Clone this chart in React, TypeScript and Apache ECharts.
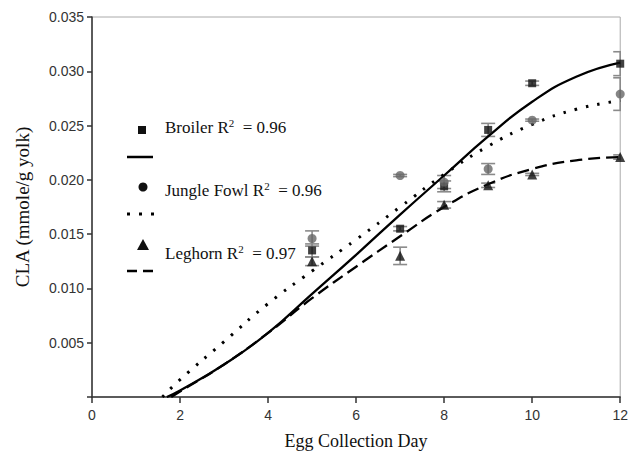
import React, { useEffect, useRef } from "react";
import * as echarts from "echarts";

const days = [5, 7, 8, 9, 10, 12];
const broiler = [0.0135, 0.0155, 0.0194, 0.0246, 0.0289, 0.0307];
const broilerErr = [0.0006, 0.0002, 0.0005, 0.0006, 0.0002, 0.0011];
const jungle = [0.0146, 0.0204, 0.0198, 0.021, 0.0255, 0.0279];
const jungleErr = [0.0007, 0.0001, 0.0006, 0.0005, 0.0001, 0.0015];
const leghorn = [0.0125, 0.013, 0.0177, 0.0195, 0.0205, 0.0221];
const leghornErr = [0.0004, 0.0008, 0.0003, 0.0002, 0.0001, 0.0002];

const broilerFit = [
  [1.7, 0], [2, 0.0006], [3, 0.003], [4, 0.0059], [5, 0.0095], [6, 0.0131],
  [7, 0.0168], [8, 0.0204], [9, 0.024], [10, 0.0272], [11, 0.0295], [12, 0.0308],
];
const jungleFit = [
  [1.6, 0], [2, 0.0016], [3, 0.0051], [4, 0.0086], [5, 0.0116], [6, 0.0145],
  [7, 0.0175], [8, 0.0205], [9, 0.0231], [10, 0.0251], [11, 0.0265], [12, 0.0273],
];
const leghornFit = [
  [1.8, 0], [2, 0.0005], [3, 0.003], [4, 0.0059], [5, 0.0091], [6, 0.012],
  [7, 0.0148], [8, 0.0175], [9, 0.0196], [10, 0.021], [11, 0.0218], [12, 0.0221],
];

const legendLabels = ["Broiler R", "Jungle Fowl R", "Leghorn R"];
const legendR2 = ["0.96", "0.96", "0.97"];

const SERIF = "'Liberation Serif', 'Times New Roman', serif";
const SANS = "'Liberation Sans', Arial, sans-serif";

function errorSeries(vals: number[], errs: number[]) {
  return {
    type: "custom",
    clip: true,
    z: 1,
    data: days.map((d, i) => [d, vals[i], errs[i]]),
    renderItem: (params: any, api: any) => {
      const x = api.value(0);
      const y = api.value(1);
      const e = api.value(2);
      const t = api.coord([x, y + e]);
      const b = api.coord([x, y - e]);
      const hw = 7;
      const st = { stroke: "#8a8a8a", lineWidth: 1.6 };
      return {
        type: "group",
        children: [
          { type: "line", shape: { x1: t[0], y1: t[1], x2: b[0], y2: b[1] }, style: st },
          { type: "line", shape: { x1: t[0] - hw, y1: t[1], x2: t[0] + hw, y2: t[1] }, style: st },
          { type: "line", shape: { x1: b[0] - hw, y1: b[1], x2: b[0] + hw, y2: b[1] }, style: st },
        ],
      };
    },
  };
}

function legendText(i: number, y: number) {
  return {
    type: "text",
    x: 165,
    y,
    style: {
      text: `{a|${legendLabels[i]}}{s|2}{a|  = ${legendR2[i]}}`,
      verticalAlign: "middle",
      rich: {
        a: { fontFamily: SERIF, fontSize: 17, fill: "#111", lineHeight: 19 },
        s: { fontFamily: SERIF, fontSize: 11, fill: "#111", verticalAlign: "top", lineHeight: 11 },
      },
    },
  };
}

export default function App() {
  const ref = useRef<HTMLDivElement>(null);
  useEffect(() => {
    if (!ref.current) return;
    document.body.style.margin = "0";
    const chart = echarts.init(ref.current, null, { renderer: "svg" });
    const axisLine = { lineStyle: { color: "#333", width: 1.5 } };
    const fitLine = (data: number[][], lineStyle: any) => ({
      type: "line",
      data,
      smooth: 0.5,
      showSymbol: false,
      lineStyle,
      z: 2,
    });
    chart.setOption({
      animation: false,
      backgroundColor: "#fff",
      grid: {
        left: 92,
        right: 9,
        top: 17,
        bottom: 57,
        show: true,
        borderColor: "#aaa",
        borderWidth: 1,
      },
      xAxis: {
        type: "value",
        min: 0,
        max: 12,
        interval: 2,
        name: "Egg Collection Day",
        nameLocation: "middle",
        nameGap: 35,
        nameTextStyle: { fontFamily: SERIF, fontSize: 18, color: "#111" },
        axisLine,
        axisTick: { show: true, length: 6, lineStyle: { color: "#333", width: 1.5 } },
        axisLabel: { margin: 11, fontFamily: SANS, fontSize: 14, color: "#333" },
        splitLine: { show: false },
      },
      yAxis: {
        type: "value",
        min: 0,
        max: 0.035,
        interval: 0.005,
        name: "CLA (mmole/g yolk)",
        nameLocation: "middle",
        nameGap: 60,
        nameTextStyle: { fontFamily: SERIF, fontSize: 19, color: "#111" },
        axisLine,
        axisTick: { show: true, length: 5, lineStyle: { color: "#333", width: 1.5 } },
        axisLabel: {
          margin: 8,
          fontFamily: SANS,
          fontSize: 14,
          color: "#333",
          formatter: (v: number) => (v === 0 ? "" : v.toFixed(3)),
        },
        splitLine: { show: false },
      },
      series: [
        fitLine(broilerFit, { color: "#000", width: 2.3 }),
        fitLine(jungleFit, { color: "#000", width: 3, type: [2.5, 9], cap: "butt" }),
        fitLine(leghornFit, { color: "#000", width: 2.3, type: [12, 6] }),
        errorSeries(broiler, broilerErr),
        errorSeries(jungle, jungleErr),
        errorSeries(leghorn, leghornErr),
        {
          type: "scatter",
          data: days.map((d, i) => [d, broiler[i]]),
          symbol: "rect",
          symbolSize: 8,
          itemStyle: { color: "#111" },
          z: 3,
        },
        {
          type: "scatter",
          data: days.map((d, i) => [d, jungle[i]]),
          symbol: "circle",
          symbolSize: 9,
          itemStyle: { color: "#666" },
          z: 3,
        },
        {
          type: "scatter",
          data: days.map((d, i) => [d, leghorn[i]]),
          symbol: "triangle",
          symbolSize: 10,
          itemStyle: { color: "#111" },
          z: 3,
        },
      ],
      graphic: [
        { type: "rect", shape: { x: 138, y: 126, width: 8, height: 8 }, style: { fill: "#111" } },
        { type: "line", shape: { x1: 127, y1: 157, x2: 153, y2: 157 }, style: { stroke: "#000", lineWidth: 2.5 } },
        { type: "circle", shape: { cx: 143, cy: 187, r: 4.5 }, style: { fill: "#111" } },
        {
          type: "line",
          shape: { x1: 127, y1: 214, x2: 156, y2: 214 },
          style: { stroke: "#000", lineWidth: 3, lineDash: [3, 9] },
        },
        { type: "polygon", shape: { points: [[143, 239], [137, 250], [149, 250]] }, style: { fill: "#111" } },
        {
          type: "line",
          shape: { x1: 127, y1: 271, x2: 153, y2: 271 },
          style: { stroke: "#000", lineWidth: 2.5, lineDash: [10, 6] },
        },
        legendText(0, 127),
        legendText(1, 190),
        legendText(2, 253),
      ],
    });
    return () => chart.dispose();
  }, []);
  return <div ref={ref} style={{ width: 631, height: 455 }} />;
}
